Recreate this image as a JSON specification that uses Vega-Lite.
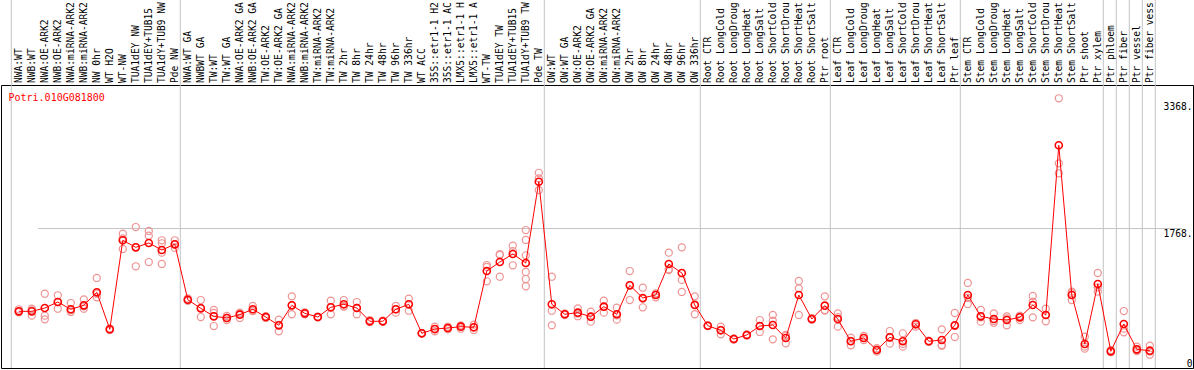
{
  "$schema": "https://vega.github.io/schema/vega-lite/v6.json",
  "autosize": {"type": "none"},
  "padding": {"left": 1, "top": 85, "right": 1, "bottom": 2},
  "width": 1192,
  "height": 283,
  "background": "white",
  "config": {"view": {"stroke": "black", "strokeWidth": 1}},
  "title": {"text": "Potri.010G081800", "orient": "bottom", "anchor": "start", "frame": "group", "offset": 0, "dx": 7.5, "dy": -276, "baseline": "top", "color": "#ff0000", "font": "DejaVu Sans Mono", "fontSize": 10, "fontWeight": "normal"},
  "datasets": {
    "means": [
      {"s": "NWA:WT", "v": 717}, {"s": "NWB:WT", "v": 717}, {"s": "NWA:OE-ARK2", "v": 759}, {"s": "NWB:OE-ARK2", "v": 835}, {"s": "NWA:miRNA-ARK2", "v": 743}, {"s": "NWB:miRNA-ARK2", "v": 793}, {"s": "NW 0hr", "v": 958}, {"s": "WT H2O", "v": 490}, {"s": "WT-NW", "v": 1616}, {"s": "TUA1dEY NW", "v": 1527}, {"s": "TUA1dEY+TUB15", "v": 1582}, {"s": "TUA1dY+TUB9 NW", "v": 1493}, {"s": "Pde NW", "v": 1565},
      {"s": "NWA:WT GA", "v": 864}, {"s": "NWBWT GA", "v": 755}, {"s": "TW:WT", "v": 654}, {"s": "TW:WT GA", "v": 633}, {"s": "NWA:OE-ARK2 GA", "v": 675}, {"s": "NWB:OE-ARK2 GA", "v": 743}, {"s": "TW:OE-ARK2", "v": 645}, {"s": "TW:OE-ARK2 GA", "v": 540}, {"s": "NWA:miRNA-ARK2 ", "v": 793}, {"s": "NWB:miRNA-ARK2 ", "v": 692}, {"s": "TW:miRNA-ARK2", "v": 645}, {"s": "TW:miRNA-ARK2 ", "v": 768}, {"s": "TW 2hr", "v": 806}, {"s": "TW 8hr", "v": 759}, {"s": "TW 24hr", "v": 591}, {"s": "TW 48hr", "v": 591}, {"s": "TW 96hr", "v": 743}, {"s": "TW 336hr", "v": 806}, {"s": "WT ACC", "v": 439}, {"s": "35S::etr1-1 H2", "v": 493}, {"s": "35S::etr1-1 AC", "v": 506}, {"s": "LMX5::etr1-1 H", "v": 523}, {"s": "LMX5::etr1-1 A", "v": 515}, {"s": "WT-TW", "v": 1227}, {"s": "TUA1dEY TW", "v": 1341}, {"s": "TUA1dEY+TUB15 ", "v": 1443}, {"s": "TUA1dY+TUB9 TW", "v": 1329}, {"s": "Pde TW", "v": 2357},
      {"s": "OW:WT", "v": 806}, {"s": "OW:WT GA", "v": 680}, {"s": "OW:OE-ARK2", "v": 700}, {"s": "OW:OE-ARK2 GA", "v": 649}, {"s": "OW:miRNA-ARK2", "v": 776}, {"s": "OW:miRNA-ARK2 ", "v": 680}, {"s": "OW 2hr", "v": 1046}, {"s": "OW 8hr", "v": 886}, {"s": "OW 24hr", "v": 924}, {"s": "OW 48hr", "v": 1316}, {"s": "OW 96hr", "v": 1202}, {"s": "OW 336hr", "v": 797},
      {"s": "Root CTR", "v": 535}, {"s": "Root LongCold", "v": 477}, {"s": "Root LongDroug", "v": 367}, {"s": "Root LongHeat", "v": 418}, {"s": "Root LongSalt", "v": 531}, {"s": "Root ShortCold", "v": 544}, {"s": "Root ShortDrou", "v": 380}, {"s": "Root ShortHeat", "v": 924}, {"s": "Root ShortSalt", "v": 620}, {"s": "Ptr root", "v": 789},
      {"s": "Leaf CTR", "v": 620}, {"s": "Leaf LongCold", "v": 338}, {"s": "Leaf LongDroug", "v": 380}, {"s": "Leaf LongHeat", "v": 228}, {"s": "Leaf LongSalt", "v": 388}, {"s": "Leaf ShortCold", "v": 338}, {"s": "Leaf ShortDrou", "v": 553}, {"s": "Leaf ShortHeat", "v": 338}, {"s": "Leaf ShortSalt", "v": 354}, {"s": "Ptr leaf", "v": 540},
      {"s": "Stem CTR", "v": 924}, {"s": "Stem LongCold", "v": 654}, {"s": "Stem LongDroug", "v": 620}, {"s": "Stem LongHeat", "v": 607}, {"s": "Stem LongSalt", "v": 641}, {"s": "Stem ShortCold", "v": 797}, {"s": "Stem ShortDrou", "v": 671}, {"s": "Stem ShortHeat", "v": 2818}, {"s": "Stem ShortSalt", "v": 924}, {"s": "Ptr shoot", "v": 304}, {"s": "Ptr xylem", "v": 1063},
      {"s": "Ptr phloem", "v": 211}, {"s": "Ptr fiber", "v": 557}, {"s": "Ptr vessel", "v": 236}, {"s": "Ptr fiber vess", "v": 219}
    ],
    "reps": [
      {"s": "NWA:WT", "v": 743}, {"s": "NWA:WT", "v": 705}, {"s": "NWA:WT", "v": 717},
      {"s": "NWB:WT", "v": 750}, {"s": "NWB:WT", "v": 662}, {"s": "NWB:WT", "v": 730},
      {"s": "NWA:OE-ARK2", "v": 940}, {"s": "NWA:OE-ARK2", "v": 662}, {"s": "NWA:OE-ARK2", "v": 616},
      {"s": "NWB:OE-ARK2", "v": 920}, {"s": "NWB:OE-ARK2", "v": 750}, {"s": "NWB:OE-ARK2", "v": 835},
      {"s": "NWA:miRNA-ARK2", "v": 822}, {"s": "NWA:miRNA-ARK2", "v": 709}, {"s": "NWA:miRNA-ARK2", "v": 730},
      {"s": "NWB:miRNA-ARK2", "v": 869}, {"s": "NWB:miRNA-ARK2", "v": 750}, {"s": "NWB:miRNA-ARK2", "v": 780},
      {"s": "NW 0hr", "v": 1139}, {"s": "NW 0hr", "v": 895}, {"s": "NW 0hr", "v": 940},
      {"s": "WT H2O", "v": 490}, {"s": "WT H2O", "v": 480}, {"s": "WT H2O", "v": 500},
      {"s": "WT-NW", "v": 1699}, {"s": "WT-NW", "v": 1506}, {"s": "WT-NW", "v": 1640},
      {"s": "TUA1dEY NW", "v": 1784}, {"s": "TUA1dEY NW", "v": 1287}, {"s": "TUA1dEY NW", "v": 1530},
      {"s": "TUA1dEY+TUB15", "v": 1734}, {"s": "TUA1dEY+TUB15", "v": 1674}, {"s": "TUA1dEY+TUB15", "v": 1341},
      {"s": "TUA1dY+TUB9 NW", "v": 1616}, {"s": "TUA1dY+TUB9 NW", "v": 1578}, {"s": "TUA1dY+TUB9 NW", "v": 1459}, {"s": "TUA1dY+TUB9 NW", "v": 1316},
      {"s": "Pde NW", "v": 1616}, {"s": "Pde NW", "v": 1565}, {"s": "Pde NW", "v": 1520},
      {"s": "NWA:WT GA", "v": 864}, {"s": "NWA:WT GA", "v": 850}, {"s": "NWA:WT GA", "v": 880},
      {"s": "NWBWT GA", "v": 860}, {"s": "NWBWT GA", "v": 645}, {"s": "NWBWT GA", "v": 760},
      {"s": "TW:WT", "v": 734}, {"s": "TW:WT", "v": 531}, {"s": "TW:WT", "v": 697},
      {"s": "TW:WT GA", "v": 658}, {"s": "TW:WT GA", "v": 607}, {"s": "TW:WT GA", "v": 633},
      {"s": "NWA:OE-ARK2 GA", "v": 700}, {"s": "NWA:OE-ARK2 GA", "v": 633}, {"s": "NWA:OE-ARK2 GA", "v": 690},
      {"s": "NWB:OE-ARK2 GA", "v": 785}, {"s": "NWB:OE-ARK2 GA", "v": 725}, {"s": "NWB:OE-ARK2 GA", "v": 720},
      {"s": "TW:OE-ARK2", "v": 649}, {"s": "TW:OE-ARK2", "v": 633}, {"s": "TW:OE-ARK2", "v": 655},
      {"s": "TW:OE-ARK2 GA", "v": 611}, {"s": "TW:OE-ARK2 GA", "v": 464}, {"s": "TW:OE-ARK2 GA", "v": 545},
      {"s": "NWA:miRNA-ARK2 ", "v": 907}, {"s": "NWA:miRNA-ARK2 ", "v": 680}, {"s": "NWA:miRNA-ARK2 ", "v": 792},
      {"s": "NWB:miRNA-ARK2 ", "v": 692}, {"s": "NWB:miRNA-ARK2 ", "v": 680}, {"s": "NWB:miRNA-ARK2 ", "v": 705},
      {"s": "TW:miRNA-ARK2", "v": 645}, {"s": "TW:miRNA-ARK2", "v": 640}, {"s": "TW:miRNA-ARK2", "v": 650},
      {"s": "TW:miRNA-ARK2 ", "v": 852}, {"s": "TW:miRNA-ARK2 ", "v": 680}, {"s": "TW:miRNA-ARK2 ", "v": 770},
      {"s": "TW 2hr", "v": 860}, {"s": "TW 2hr", "v": 776}, {"s": "TW 2hr", "v": 782},
      {"s": "TW 8hr", "v": 835}, {"s": "TW 8hr", "v": 680}, {"s": "TW 8hr", "v": 762},
      {"s": "TW 24hr", "v": 607}, {"s": "TW 24hr", "v": 591}, {"s": "TW 24hr", "v": 580},
      {"s": "TW 48hr", "v": 591}, {"s": "TW 48hr", "v": 585}, {"s": "TW 48hr", "v": 598},
      {"s": "TW 96hr", "v": 785}, {"s": "TW 96hr", "v": 743}, {"s": "TW 96hr", "v": 700},
      {"s": "TW 336hr", "v": 877}, {"s": "TW 336hr", "v": 725}, {"s": "TW 336hr", "v": 806},
      {"s": "WT ACC", "v": 439}, {"s": "WT ACC", "v": 435}, {"s": "WT ACC", "v": 443},
      {"s": "35S::etr1-1 H2", "v": 523}, {"s": "35S::etr1-1 H2", "v": 493}, {"s": "35S::etr1-1 H2", "v": 465},
      {"s": "35S::etr1-1 AC", "v": 523}, {"s": "35S::etr1-1 AC", "v": 506}, {"s": "35S::etr1-1 AC", "v": 490},
      {"s": "LMX5::etr1-1 H", "v": 540}, {"s": "LMX5::etr1-1 H", "v": 497}, {"s": "LMX5::etr1-1 H", "v": 530},
      {"s": "LMX5::etr1-1 A", "v": 481}, {"s": "LMX5::etr1-1 A", "v": 515}, {"s": "LMX5::etr1-1 A", "v": 548},
      {"s": "WT-TW", "v": 1303}, {"s": "WT-TW", "v": 1097}, {"s": "WT-TW", "v": 1280},
      {"s": "TUA1dEY TW", "v": 1430}, {"s": "TUA1dEY TW", "v": 1155}, {"s": "TUA1dEY TW", "v": 1440},
      {"s": "TUA1dEY+TUB15 ", "v": 1548}, {"s": "TUA1dEY+TUB15 ", "v": 1300}, {"s": "TUA1dEY+TUB15 ", "v": 1480},
      {"s": "TUA1dY+TUB9 TW", "v": 1746}, {"s": "TUA1dY+TUB9 TW", "v": 1620}, {"s": "TUA1dY+TUB9 TW", "v": 1426}, {"s": "TUA1dY+TUB9 TW", "v": 1215}, {"s": "TUA1dY+TUB9 TW", "v": 1126}, {"s": "TUA1dY+TUB9 TW", "v": 1034},
      {"s": "Pde TW", "v": 2470}, {"s": "Pde TW", "v": 2400}, {"s": "Pde TW", "v": 2250},
      {"s": "OW:WT", "v": 1155}, {"s": "OW:WT", "v": 725}, {"s": "OW:WT", "v": 540},
      {"s": "OW:WT GA", "v": 680}, {"s": "OW:WT GA", "v": 690}, {"s": "OW:WT GA", "v": 670},
      {"s": "OW:OE-ARK2", "v": 755}, {"s": "OW:OE-ARK2", "v": 690}, {"s": "OW:OE-ARK2", "v": 655},
      {"s": "OW:OE-ARK2 GA", "v": 713}, {"s": "OW:OE-ARK2 GA", "v": 586}, {"s": "OW:OE-ARK2 GA", "v": 649},
      {"s": "OW:miRNA-ARK2", "v": 852}, {"s": "OW:miRNA-ARK2", "v": 700}, {"s": "OW:miRNA-ARK2", "v": 776},
      {"s": "OW:miRNA-ARK2 ", "v": 763}, {"s": "OW:miRNA-ARK2 ", "v": 612}, {"s": "OW:miRNA-ARK2 ", "v": 665},
      {"s": "OW 2hr", "v": 1227}, {"s": "OW 2hr", "v": 860}, {"s": "OW 2hr", "v": 1050},
      {"s": "OW 8hr", "v": 1016}, {"s": "OW 8hr", "v": 768}, {"s": "OW 8hr", "v": 875},
      {"s": "OW 24hr", "v": 945}, {"s": "OW 24hr", "v": 895}, {"s": "OW 24hr", "v": 930},
      {"s": "OW 48hr", "v": 1459}, {"s": "OW 48hr", "v": 1240}, {"s": "OW 48hr", "v": 1250},
      {"s": "OW 96hr", "v": 1527}, {"s": "OW 96hr", "v": 962}, {"s": "OW 96hr", "v": 1115},
      {"s": "OW 336hr", "v": 907}, {"s": "OW 336hr", "v": 680}, {"s": "OW 336hr", "v": 805},
      {"s": "Root CTR", "v": 535}, {"s": "Root CTR", "v": 530}, {"s": "Root CTR", "v": 540},
      {"s": "Root LongCold", "v": 523}, {"s": "Root LongCold", "v": 426}, {"s": "Root LongCold", "v": 482},
      {"s": "Root LongDroug", "v": 367}, {"s": "Root LongDroug", "v": 375}, {"s": "Root LongDroug", "v": 360},
      {"s": "Root LongHeat", "v": 418}, {"s": "Root LongHeat", "v": 425}, {"s": "Root LongHeat", "v": 410},
      {"s": "Root LongSalt", "v": 607}, {"s": "Root LongSalt", "v": 456}, {"s": "Root LongSalt", "v": 530},
      {"s": "Root ShortCold", "v": 671}, {"s": "Root ShortCold", "v": 363}, {"s": "Root ShortCold", "v": 598},
      {"s": "Root ShortDrou", "v": 418}, {"s": "Root ShortDrou", "v": 312}, {"s": "Root ShortDrou", "v": 410},
      {"s": "Root ShortHeat", "v": 1101}, {"s": "Root ShortHeat", "v": 1008}, {"s": "Root ShortHeat", "v": 671},
      {"s": "Root ShortSalt", "v": 620}, {"s": "Root ShortSalt", "v": 610}, {"s": "Root ShortSalt", "v": 630},
      {"s": "Ptr root", "v": 907}, {"s": "Ptr root", "v": 734}, {"s": "Ptr root", "v": 726},
      {"s": "Leaf CTR", "v": 692}, {"s": "Leaf CTR", "v": 523}, {"s": "Leaf CTR", "v": 645},
      {"s": "Leaf LongCold", "v": 384}, {"s": "Leaf LongCold", "v": 287}, {"s": "Leaf LongCold", "v": 343},
      {"s": "Leaf LongDroug", "v": 405}, {"s": "Leaf LongDroug", "v": 354}, {"s": "Leaf LongDroug", "v": 380},
      {"s": "Leaf LongHeat", "v": 207}, {"s": "Leaf LongHeat", "v": 228}, {"s": "Leaf LongHeat", "v": 250},
      {"s": "Leaf LongSalt", "v": 468}, {"s": "Leaf LongSalt", "v": 308}, {"s": "Leaf LongSalt", "v": 388},
      {"s": "Leaf ShortCold", "v": 439}, {"s": "Leaf ShortCold", "v": 270}, {"s": "Leaf ShortCold", "v": 305},
      {"s": "Leaf ShortDrou", "v": 569}, {"s": "Leaf ShortDrou", "v": 523}, {"s": "Leaf ShortDrou", "v": 567},
      {"s": "Leaf ShortHeat", "v": 338}, {"s": "Leaf ShortHeat", "v": 330}, {"s": "Leaf ShortHeat", "v": 346},
      {"s": "Leaf ShortSalt", "v": 489}, {"s": "Leaf ShortSalt", "v": 282}, {"s": "Leaf ShortSalt", "v": 290},
      {"s": "Ptr leaf", "v": 696}, {"s": "Ptr leaf", "v": 392}, {"s": "Ptr leaf", "v": 532},
      {"s": "Stem CTR", "v": 1076}, {"s": "Stem CTR", "v": 810}, {"s": "Stem CTR", "v": 886},
      {"s": "Stem LongCold", "v": 734}, {"s": "Stem LongCold", "v": 586}, {"s": "Stem LongCold", "v": 642},
      {"s": "Stem LongDroug", "v": 692}, {"s": "Stem LongDroug", "v": 573}, {"s": "Stem LongDroug", "v": 595},
      {"s": "Stem LongHeat", "v": 628}, {"s": "Stem LongHeat", "v": 540}, {"s": "Stem LongHeat", "v": 653},
      {"s": "Stem LongSalt", "v": 658}, {"s": "Stem LongSalt", "v": 607}, {"s": "Stem LongSalt", "v": 658},
      {"s": "Stem ShortCold", "v": 911}, {"s": "Stem ShortCold", "v": 641}, {"s": "Stem ShortCold", "v": 839},
      {"s": "Stem ShortDrou", "v": 751}, {"s": "Stem ShortDrou", "v": 590}, {"s": "Stem ShortDrou", "v": 672},
      {"s": "Stem ShortHeat", "v": 3413}, {"s": "Stem ShortHeat", "v": 2590}, {"s": "Stem ShortHeat", "v": 2464},
      {"s": "Stem ShortSalt", "v": 966}, {"s": "Stem ShortSalt", "v": 860}, {"s": "Stem ShortSalt", "v": 946},
      {"s": "Ptr shoot", "v": 397}, {"s": "Ptr shoot", "v": 245}, {"s": "Ptr shoot", "v": 270},
      {"s": "Ptr xylem", "v": 1202}, {"s": "Ptr xylem", "v": 966}, {"s": "Ptr xylem", "v": 1021},
      {"s": "Ptr phloem", "v": 228}, {"s": "Ptr phloem", "v": 200}, {"s": "Ptr phloem", "v": 205},
      {"s": "Ptr fiber", "v": 721}, {"s": "Ptr fiber", "v": 452}, {"s": "Ptr fiber", "v": 498},
      {"s": "Ptr vessel", "v": 270}, {"s": "Ptr vessel", "v": 225}, {"s": "Ptr vessel", "v": 213},
      {"s": "Ptr fiber vess", "v": 282}, {"s": "Ptr fiber vess", "v": 207}, {"s": "Ptr fiber vess", "v": 168}
    ],
    "starts": [
      {"s": "NWA:WT"}, {"s": "NWA:WT GA"}, {"s": "OW:WT"}, {"s": "Root CTR"}, {"s": "Leaf CTR"}, {"s": "Stem CTR"}, {"s": "Ptr phloem"}, {"s": "Ptr fiber"}, {"s": "Ptr vessel"}, {"s": "Ptr fiber vess"}
    ],
    "ends": [{"s": "Ptr fiber vess"}]
  },
  "layer": [
    {
      "data": {"name": "starts"},
      "mark": {"type": "rule", "color": "#c4c4c4", "strokeWidth": 1, "xOffset": -1},
      "encoding": {
        "x": {"field": "s", "type": "nominal", "bandPosition": 0},
        "y": {"datum": 4700, "type": "quantitative"},
        "y2": {"datum": 0}
      }
    },
    {
      "data": {"name": "ends"},
      "mark": {"type": "rule", "color": "#c4c4c4", "strokeWidth": 1, "xOffset": -1},
      "encoding": {
        "x": {"field": "s", "type": "nominal", "bandPosition": 1},
        "y": {"datum": 4700, "type": "quantitative"},
        "y2": {"datum": 0}
      }
    },
    {
      "data": {"name": "reps"},
      "mark": {"type": "point", "shape": "circle", "filled": false, "color": "#ee9494", "size": 50, "strokeWidth": 1.2, "opacity": 1},
      "encoding": {
        "x": {"field": "s", "type": "nominal"},
        "y": {"field": "v", "type": "quantitative"}
      }
    },
    {
      "data": {"name": "means"},
      "mark": {"type": "line", "color": "#ff0000", "strokeWidth": 1},
      "encoding": {
        "x": {"field": "s", "type": "nominal"},
        "y": {"field": "v", "type": "quantitative"}
      }
    },
    {
      "data": {"name": "means"},
      "mark": {"type": "point", "shape": "circle", "filled": false, "color": "#ff0000", "size": 50, "strokeWidth": 1.6, "opacity": 1},
      "encoding": {
        "x": {
          "field": "s", "type": "nominal",
          "scale": {
            "domain": ["NWA:WT","NWB:WT","NWA:OE-ARK2","NWB:OE-ARK2","NWA:miRNA-ARK2","NWB:miRNA-ARK2","NW 0hr","WT H2O","WT-NW","TUA1dEY NW","TUA1dEY+TUB15","TUA1dY+TUB9 NW","Pde NW","NWA:WT GA","NWBWT GA","TW:WT","TW:WT GA","NWA:OE-ARK2 GA","NWB:OE-ARK2 GA","TW:OE-ARK2","TW:OE-ARK2 GA","NWA:miRNA-ARK2 ","NWB:miRNA-ARK2 ","TW:miRNA-ARK2","TW:miRNA-ARK2 ","TW 2hr","TW 8hr","TW 24hr","TW 48hr","TW 96hr","TW 336hr","WT ACC","35S::etr1-1 H2","35S::etr1-1 AC","LMX5::etr1-1 H","LMX5::etr1-1 A","WT-TW","TUA1dEY TW","TUA1dEY+TUB15 ","TUA1dY+TUB9 TW","Pde TW","OW:WT","OW:WT GA","OW:OE-ARK2","OW:OE-ARK2 GA","OW:miRNA-ARK2","OW:miRNA-ARK2 ","OW 2hr","OW 8hr","OW 24hr","OW 48hr","OW 96hr","OW 336hr","Root CTR","Root LongCold","Root LongDroug","Root LongHeat","Root LongSalt","Root ShortCold","Root ShortDrou","Root ShortHeat","Root ShortSalt","Ptr root","Leaf CTR","Leaf LongCold","Leaf LongDroug","Leaf LongHeat","Leaf LongSalt","Leaf ShortCold","Leaf ShortDrou","Leaf ShortHeat","Leaf ShortSalt","Ptr leaf","Stem CTR","Stem LongCold","Stem LongDroug","Stem LongHeat","Stem LongSalt","Stem ShortCold","Stem ShortDrou","Stem ShortHeat","Stem ShortSalt","Ptr shoot","Ptr xylem","Ptr phloem","Ptr fiber","Ptr vessel","Ptr fiber vess"],
            "range": [11.3, 1155.3],
            "paddingInner": 0, "paddingOuter": 0
          },
          "axis": {"orient": "top", "title": null, "labelAngle": -90, "labelAlign": "left", "labelBaseline": "middle", "labelPadding": 2.5, "labelLimit": 300, "labelOverlap": false, "labelFont": "DejaVu Sans Mono", "labelFontSize": 9.6, "labelColor": "black", "ticks": false, "tickSize": 0, "domain": false, "grid": false}
        },
        "y": {
          "field": "v", "type": "quantitative",
          "scale": {"domain": [0, 3581], "nice": false, "zero": false},
          "axis": {"orient": "right", "title": null, "values": [0, 1768, 3368], "labelExpr": "datum.value == 0 ? '0' : datum.value + '.'", "labelAlign": "right", "labelPadding": -1, "ticks": false, "tickSize": 0, "domain": false, "grid": true, "gridColor": "#c4c4c4", "gridWidth": 1, "gridOpacity": {"condition": {"test": "datum.value == 1768", "value": 1}, "value": 0}, "labelBaseline": {"condition": {"test": "datum.value == 0", "value": "bottom"}, "value": "top"}, "labelFont": "DejaVu Sans Mono", "labelFontSize": 9.6, "labelColor": "black", "labelFlush": false}
        }
      }
    }
  ]
}
